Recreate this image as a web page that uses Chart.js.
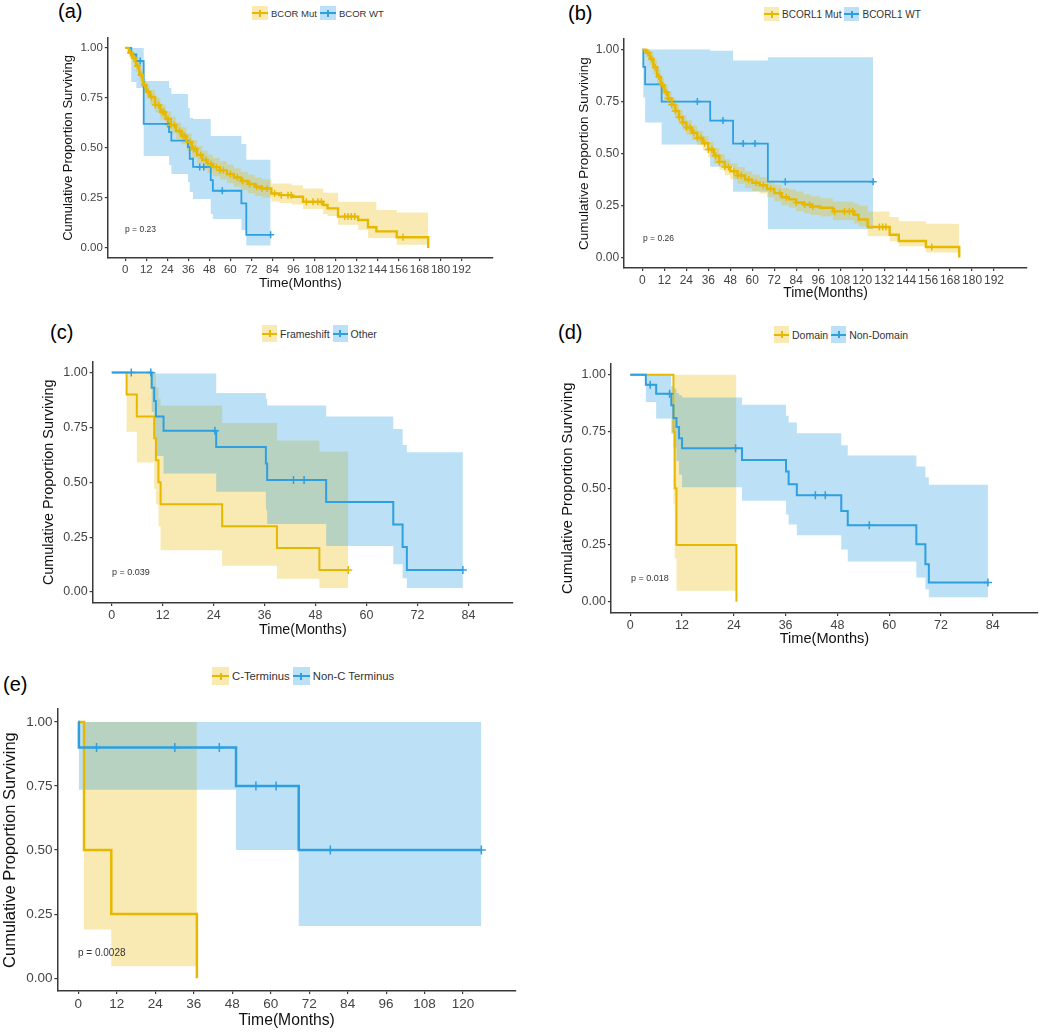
<!DOCTYPE html>
<html lang="en">
<head>
<meta charset="UTF-8">
<title>BCOR / BCORL1 survival</title>
<script src="https://cdn.jsdelivr.net/npm/chart.js"></script>
<style>
  body { margin: 0; background: #fff; font-family: "Liberation Sans", Arial, sans-serif; }
  #page { position: relative; width: 1050px; height: 1035px; overflow: hidden; }
  canvas, .txt, .legend { position: absolute; }
  .letter { font-size: 20px; line-height: 1; color: #000; }
  .pval { color: #333; line-height: 1.2; white-space: nowrap; }
  .legend { display: flex; align-items: center; color: #333; white-space: nowrap; }
  .key { position: relative; display: inline-block; margin-right: 3px; }
  .key i { position: absolute; left: 0; right: 0; top: 50%; height: 2px; margin-top: -1px; }
  .key b { position: absolute; left: 50%; top: 50%; width: 2px; height: 7px; margin: -3.5px 0 0 -1px; }
  .legend span.lab { margin-right: 3px; }
</style>
</head>
<body>
<div id="page"></div>
<script>
// ---- data (months, survival) ----
const yTicks = [0, 0.25, 0.5, 0.75, 1];
const abTicks = [0, 12, 24, 36, 48, 60, 72, 84, 96, 108, 120, 132, 144, 156, 168, 180, 192];
const cdTicks = [0, 12, 24, 36, 48, 60, 72, 84];
const eTicks = [0, 12, 24, 36, 48, 60, 72, 84, 96, 108, 120];

// (a) BCOR
const aMutT = [0,2,4,6,8,10,12,14,17,20,23,26,29,32,35,38,41,44,47,50,54,58,62,66,70,74,78,83.4,88,95,101.5,113,115.5,121.5,133,138.6,143.4,155,173];
const aMutS = [1,0.975,0.95,0.91,0.865,0.815,0.78,0.755,0.715,0.68,0.645,0.615,0.585,0.56,0.53,0.495,0.465,0.44,0.42,0.404,0.388,0.37,0.352,0.335,0.32,0.306,0.297,0.272,0.264,0.256,0.231,0.215,0.198,0.157,0.14,0.104,0.083,0.054,0];
const aMutHi = [1,0.995,0.975,0.94,0.895,0.845,0.812,0.79,0.752,0.718,0.685,0.656,0.627,0.603,0.574,0.54,0.51,0.486,0.466,0.45,0.434,0.416,0.398,0.381,0.366,0.352,0.343,0.322,0.322,0.314,0.297,0.276,0.276,0.231,0.231,0.231,0.19,0.177,0.177];
const aMutLo = [1,0.955,0.925,0.88,0.835,0.785,0.748,0.72,0.678,0.642,0.605,0.574,0.543,0.517,0.486,0.45,0.42,0.394,0.374,0.358,0.342,0.324,0.306,0.289,0.274,0.26,0.251,0.232,0.225,0.217,0.195,0.17,0.16,0.116,0.091,0.05,0.05,0.016,0.016];
const aMutCens = [3,5,7,9,11,13,15,17,19,21,22,24.4,26,28,31,33,34,37,39,40,43,46,49,52,54,56,60,64,67,71,75,78,81,85.3,89.1,92.9,94.8,103.4,107.2,110,112,125.3,127.2,129.1,131,158.6];
const aWtT = [0,3.4,6.3,10.5,25,26.3,35.8,36.8,38.7,48.8,50,66.3,69.1,83];
const aWtS = [1,0.967,0.934,0.62,0.579,0.537,0.504,0.446,0.405,0.339,0.286,0.223,0.066,0.066];
const aWtHi = [1,1,1,0.835,0.8,0.77,0.7,0.65,0.645,0.56,0.56,0.52,0.441,0.441];
const aWtLo = [1,0.83,0.8,0.46,0.415,0.37,0.33,0.28,0.245,0.17,0.145,0.09,0.012,0.012];
const aWtCens = [8.5,24.4,42.5,44.8,55.4,83];

// (b) BCORL1
const bMutT = [0,2,4,6,8,10,12,14,16,18,20,22,24,27,30,33,36,39,42,45,48,52,56,60,64,68,72,76,80,84,88,92,97,104,115.6,118,123,135,140,154.8,173];
const bMutS = [1,0.985,0.955,0.915,0.87,0.83,0.795,0.765,0.735,0.705,0.675,0.65,0.625,0.6,0.575,0.55,0.52,0.49,0.46,0.435,0.415,0.395,0.375,0.36,0.348,0.33,0.31,0.29,0.28,0.265,0.255,0.246,0.24,0.222,0.206,0.183,0.147,0.11,0.08,0.051,0];
const bMutHi = [1,1,0.99,0.95,0.905,0.865,0.83,0.8,0.77,0.74,0.71,0.685,0.66,0.635,0.61,0.585,0.557,0.527,0.498,0.473,0.453,0.435,0.415,0.4,0.388,0.37,0.352,0.335,0.327,0.318,0.305,0.295,0.285,0.27,0.26,0.25,0.222,0.195,0.175,0.163,0.163];
const bMutLo = [1,0.965,0.925,0.88,0.835,0.795,0.76,0.73,0.7,0.67,0.64,0.615,0.59,0.565,0.54,0.515,0.483,0.453,0.422,0.397,0.377,0.355,0.335,0.32,0.308,0.29,0.27,0.25,0.24,0.223,0.212,0.205,0.198,0.18,0.165,0.15,0.103,0.079,0.055,0.025,0.019];
const bMutCens = [3,5,7,9,11,13,14,16,18,20,22,24,26,28,30,32,34,36,38,40,42,45,47,50,52,54,58,62,66,70,75,78.6,84,88.6,91.3,93,104.9,110.3,113,114.9,129.4,131.2,133,158];
const bWtT = [0,0.5,1.5,10.5,37,49.5,68.5,126];
const bWtS = [1,0.917,0.833,0.75,0.659,0.548,0.365,0.365];
const bWtHi = [1,1,1,1,0.995,0.948,0.963,0.963];
const bWtLo = [1,0.77,0.65,0.544,0.437,0.317,0.138,0.138];
const bWtCens = [30,44,55,61.5,78,126];

// (c) Frameshift vs Other
const cFsT = [0,3.5,5.9,10,10.4,11,11.5,26,38.9,48.9,55.7];
const cFsS = [1,0.9,0.8,0.7,0.6,0.5,0.4,0.3,0.2,0.1,0.1];
const cFsHi = [1,1,1,1,0.93,0.88,0.85,0.77,0.69,0.64,0.64];
const cFsLo = [1,0.73,0.59,0.47,0.4,0.3,0.19,0.12,0.06,0.018,0.018];
const cFsCens = [55.7];
const cOtT = [0,9.4,10,10.4,12.2,24.6,36.3,36.6,50.5,66.3,68.5,69.5,82.7];
const cOtS = [1,0.93,0.87,0.8,0.735,0.66,0.585,0.51,0.41,0.307,0.205,0.1,0.1];
const cOtHi = [1,1,1,0.995,0.995,0.907,0.88,0.85,0.8,0.742,0.67,0.637,0.637];
const cOtLo = [1,0.82,0.7,0.62,0.54,0.457,0.375,0.31,0.21,0.127,0.063,0.018,0.018];
const cOtCens = [4.6,9.2,24.3,42.8,45.3,82.7];

// (d) Domain vs Non-Domain
const dDoT = [0,10,10.3,10.7,24.6];
const dDoS = [1,0.75,0.5,0.25,0];
const dDoHi = [1,1,1,1,1];
const dDoLo = [1,0.43,0.19,0.048,0.048];
const dDoCens = [];
const dNdT = [0,3.6,6,9.5,10,10.7,11.3,12,25.9,36.1,36.7,38.6,48.9,50.4,66.3,68.4,69.2,82.9];
const dNdS = [1,0.956,0.917,0.866,0.81,0.77,0.72,0.676,0.625,0.574,0.518,0.469,0.4,0.337,0.253,0.165,0.085,0.085];
const dNdHi = [1,1,1,0.95,0.94,0.92,0.91,0.9,0.868,0.82,0.79,0.742,0.69,0.644,0.596,0.549,0.515,0.515];
const dNdLo = [1,0.88,0.807,0.74,0.68,0.62,0.56,0.504,0.445,0.384,0.34,0.293,0.23,0.177,0.107,0.055,0.019,0.019];
const dNdCens = [4.6,9.1,24.4,42.9,45.2,55.4,82.9];

// (e) C-Terminus vs Non-C Terminus
const eCtT = [0,1.8,10.3,37];
const eCtS = [1,0.5,0.25,0];
const eCtHi = [1,1,1,1];
const eCtLo = [1,0.19,0.047,0.047];
const eCtCens = [];
const eNcT = [0,0.2,49.2,68.75,125.7];
const eNcS = [1,0.9,0.75,0.5,0.5];
const eNcHi = [1,1,1,1,1];
const eNcLo = [1,0.735,0.5,0.204,0.204];
const eNcCens = [5.7,30.1,44,55.4,61.7,78.6,125.7];

const ORANGE = '#E7B800', BLUE = '#2E9FDF';
const ORANGE_BAND = 'rgba(231,184,0,0.3)', BLUE_BAND = 'rgba(46,159,223,0.32)';

Chart.defaults.font.family = '"Liberation Sans", Arial, sans-serif';
const page = document.getElementById('page');

function pts(t, v) { return t.map((x, i) => ({ x: x, y: v[i] })); }
function survAt(t, s, x) {
  let v = s[0];
  for (let i = 0; i < t.length; i++) if (t[i] <= x) v = s[i];
  return v;
}

function groupSets(t, s, hi, lo, cens, color, band, lw, mr, base) {
  return [
    { data: pts(t, hi), stepped: true, borderWidth: 0, borderColor: 'transparent', pointRadius: 0,
      backgroundColor: band, fill: '+1', order: base + 4 },
    { data: pts(t, lo), stepped: true, borderWidth: 0, borderColor: 'transparent', pointRadius: 0,
      fill: false, order: base + 4 },
    { data: pts(t, s), stepped: true, borderWidth: lw, borderColor: color, pointRadius: 0,
      fill: false, order: base + 2 },
    { data: cens.map(x => ({ x: x, y: survAt(t, s, x) })), showLine: false, pointStyle: 'cross',
      pointRadius: mr, borderWidth: 1.5, borderColor: color, order: base }
  ];
}

function makePanel(p) {
  const yLH = p.yTitleSize * 1.2, xLH = p.xTitleSize * 1.2;
  const left = p.yTitleX - yLH / 2;
  const top = p.plot.t - 8;
  const right = p.plot.r + 8;
  const bottom = p.xTitleY + xLH / 2;
  const w = Math.round(right - left), h = Math.round(bottom - top);
  const cv = document.createElement('canvas');
  cv.width = w; cv.height = h;
  cv.style.left = left + 'px'; cv.style.top = top + 'px';
  cv.style.width = w + 'px'; cv.style.height = h + 'px';
  page.appendChild(cv);

  const yW = p.plot.l - left, xH = (top + h) - p.plot.b;
  const axisCommon = {
    border: { display: true, color: '#3a3a3a', width: 1.5 },
    grid: { drawOnChartArea: false, drawTicks: true, tickLength: 3, color: '#3a3a3a', lineWidth: 1.2 }
  };
  new Chart(cv, {
    type: 'line',
    data: { datasets: p.datasets },
    options: {
      responsive: false, animation: false, devicePixelRatio: 1,
      layout: { padding: { top: 8, right: 8, left: 0, bottom: 0 }, autoPadding: false },
      plugins: { legend: { display: false }, tooltip: { enabled: false } },
      scales: {
        x: Object.assign({}, axisCommon, {
          type: 'linear', min: p.xMin, max: p.xMax,
          afterBuildTicks: ax => { ax.ticks = p.xTicks.map(v => ({ value: v })); },
          afterFit: sc => { sc.height = xH; },
          ticks: { color: '#444', font: { size: p.tickSize }, padding: 2, maxRotation: 0, autoSkip: false,
                   callback: v => String(v) },
          title: { display: true, text: 'Time(Months)', color: '#111', font: { size: p.xTitleSize }, padding: 0 }
        }),
        y: Object.assign({}, axisCommon, {
          type: 'linear', min: -0.05, max: 1.05,
          afterBuildTicks: ax => { ax.ticks = yTicks.map(v => ({ value: v })); },
          afterFit: sc => { sc.width = yW; },
          ticks: { color: '#444', font: { size: p.tickSize }, padding: 2, callback: v => v.toFixed(2) },
          title: { display: true, text: 'Cumulative Proportion Surviving', color: '#111',
                   font: { size: p.yTitleSize }, padding: 0 }
        })
      }
    }
  });

  // panel letter
  const L = document.createElement('div');
  L.className = 'txt letter';
  L.style.left = p.letterPos[0] + 'px'; L.style.top = p.letterPos[1] + 'px';
  L.textContent = p.letter;
  page.appendChild(L);

  // p value
  const P = document.createElement('div');
  P.className = 'txt pval';
  P.style.fontSize = p.pSize + 'px';
  P.style.left = p.pPos[0] + 'px';
  P.style.top = (p.pPos[1] - p.pSize * 0.6) + 'px';
  P.textContent = p.pText;
  page.appendChild(P);

  // legend
  const G = document.createElement('div');
  G.className = 'legend';
  G.style.left = p.leg.x + 'px'; G.style.top = p.leg.y + 'px';
  G.style.height = p.leg.h + 'px'; G.style.fontSize = p.leg.size + 'px';
  p.leg.items.forEach(it => {
    const k = document.createElement('span');
    k.className = 'key';
    k.style.width = p.leg.w + 'px'; k.style.height = p.leg.h + 'px';
    k.style.background = it.band;
    k.innerHTML = '<i style="background:' + it.color + '"></i><b style="background:' + it.color + '"></b>';
    const s = document.createElement('span');
    s.className = 'lab';
    s.textContent = it.label;
    G.appendChild(k); G.appendChild(s);
  });
  page.appendChild(G);
}

const legMutWt = (a, b) => [
  { label: a, color: ORANGE, band: ORANGE_BAND },
  { label: b, color: BLUE, band: BLUE_BAND }
];

makePanel({
  letter: '(a)', letterPos: [58, 1], pText: 'p = 0.23', pPos: [125, 229], pSize: 8.5,
  plot: { l: 108, t: 37, r: 493, b: 258 }, xMin: -10, xMax: 210, xTicks: abTicks,
  yTitleX: 69, yTitleSize: 13, xTitleY: 283, xTitleSize: 13.5, tickSize: 11.5,
  leg: { x: 252, y: 6, w: 16, h: 14, size: 9.5, items: legMutWt('BCOR Mut', 'BCOR WT') },
  datasets: [].concat(
    groupSets(aWtT, aWtS, aWtHi, aWtLo, aWtCens, BLUE, BLUE_BAND, 1.8, 3.5, 1),
    groupSets(aMutT, aMutS, aMutHi, aMutLo, aMutCens, ORANGE, ORANGE_BAND, 2.4, 3.5, 0.5))
});

makePanel({
  letter: '(b)', letterPos: [568, 3], pText: 'p = 0.26', pPos: [643, 238], pSize: 8.5,
  plot: { l: 624, t: 38, r: 1027, b: 268 }, xMin: -10, xMax: 210, xTicks: abTicks,
  yTitleX: 584, yTitleSize: 13.5, xTitleY: 293, xTitleSize: 13.8, tickSize: 12,
  leg: { x: 764, y: 7, w: 15, h: 14, size: 10, items: legMutWt('BCORL1 Mut', 'BCORL1 WT') },
  datasets: [].concat(
    groupSets(bWtT, bWtS, bWtHi, bWtLo, bWtCens, BLUE, BLUE_BAND, 1.8, 3.5, 1),
    groupSets(bMutT, bMutS, bMutHi, bMutLo, bMutCens, ORANGE, ORANGE_BAND, 2.4, 3.5, 0.5))
});

makePanel({
  letter: '(c)', letterPos: [50, 322], pText: 'p = 0.039', pPos: [112, 572], pSize: 9,
  plot: { l: 93, t: 360, r: 513, b: 603 }, xMin: -4.5, xMax: 94.5, xTicks: cdTicks,
  yTitleX: 49, yTitleSize: 14.4, xTitleY: 630, xTitleSize: 14.3, tickSize: 12.5,
  leg: { x: 262, y: 325, w: 15, h: 17, size: 10.5, items: legMutWt('Frameshift', 'Other') },
  datasets: [].concat(
    groupSets(cFsT, cFsS, cFsHi, cFsLo, cFsCens, ORANGE, ORANGE_BAND, 2, 4, 1),
    groupSets(cOtT, cOtS, cOtHi, cOtLo, cOtCens, BLUE, BLUE_BAND, 2, 4, 0.5))
});

makePanel({
  letter: '(d)', letterPos: [558, 322], pText: 'p = 0.018', pPos: [631, 578], pSize: 9,
  plot: { l: 611, t: 362, r: 1038, b: 613 }, xMin: -4.5, xMax: 94.5, xTicks: cdTicks,
  yTitleX: 568, yTitleSize: 14.8, xTitleY: 639, xTitleSize: 14.6, tickSize: 12.5,
  leg: { x: 774, y: 326, w: 15, h: 17, size: 10.5, items: legMutWt('Domain', 'Non-Domain') },
  datasets: [].concat(
    groupSets(dDoT, dDoS, dDoHi, dDoLo, dDoCens, ORANGE, ORANGE_BAND, 2, 4, 1),
    groupSets(dNdT, dNdS, dNdHi, dNdLo, dNdCens, BLUE, BLUE_BAND, 2, 4, 0.5))
});

makePanel({
  letter: '(e)', letterPos: [3, 674], pText: 'p = 0.0028', pPos: [78, 953], pSize: 10,
  plot: { l: 57, t: 707, r: 516, b: 991 }, xMin: -6.5, xMax: 136.5, xTicks: eTicks,
  yTitleX: 10.5, yTitleSize: 16.5, xTitleY: 1021, xTitleSize: 15.7, tickSize: 13.5,
  leg: { x: 212, y: 667, w: 17, h: 18, size: 11.3, items: legMutWt('C-Terminus', 'Non-C Terminus') },
  datasets: [].concat(
    groupSets(eCtT, eCtS, eCtHi, eCtLo, eCtCens, ORANGE, ORANGE_BAND, 2.5, 4.5, 1),
    groupSets(eNcT, eNcS, eNcHi, eNcLo, eNcCens, BLUE, BLUE_BAND, 2.5, 4.5, 0.5))
});
</script>
</body>
</html>
